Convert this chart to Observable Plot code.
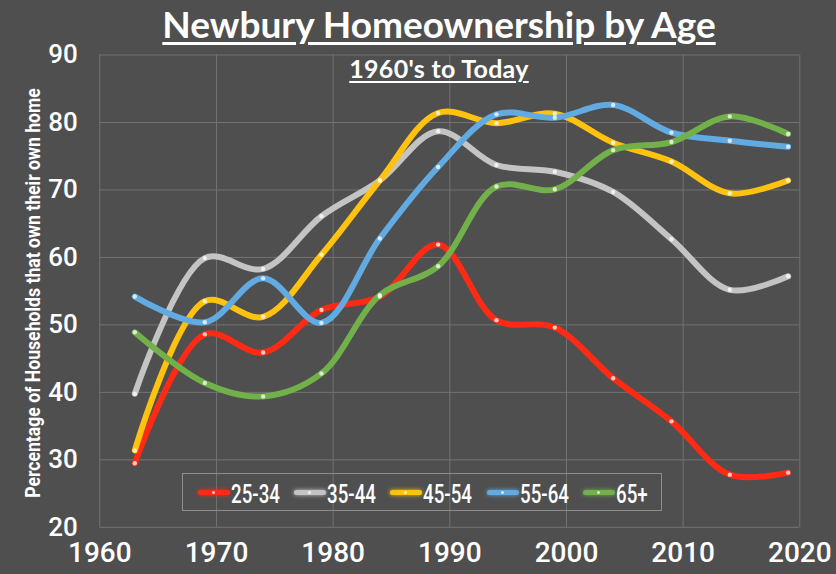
<!DOCTYPE html>
<html>
<head>
<meta charset="utf-8">
<script src="https://cdn.jsdelivr.net/npm/d3@7"></script>
<script src="https://cdn.jsdelivr.net/npm/@observablehq/plot@0.6"></script>
<style>
  html, body { margin: 0; padding: 0; background: #4f4f4f; }
  #wrap { position: relative; width: 836px; height: 574px; background: #4f4f4f; overflow: hidden; }
  #title { position: absolute; left: 439px; top: 2px; transform: translateX(-50%); white-space: nowrap; line-height: 1.2;
    font-family: Lato, "Open Sans", sans-serif; font-weight: 700; font-size: 37px; color: #fff; text-decoration: underline; text-decoration-thickness: 2.5px; text-underline-offset: 4px; z-index: 2; }
  #subtitle { position: absolute; left: 439px; top: 53px; transform: translateX(-50%); white-space: nowrap; line-height: 1.2;
    font-family: Lato, "Open Sans", sans-serif; font-weight: 700; font-size: 25px; letter-spacing: 0.3px; color: #fff; text-decoration: underline; text-decoration-thickness: 2px; text-underline-offset: 3px; z-index: 2; }
  #chart { position: absolute; left: 0; top: 36px; }
  #legend { position: absolute; left: 182px; top: 473px; width: 478px; height: 36px; border: 1.5px solid #8e8e8e; z-index: 2; }
  .item { position: absolute; top: 0; height: 36px; display: flex; align-items: center; }
  .sw { position: relative; width: 32px; height: 5px; border-radius: 3px; flex: none; }
  .sw::after { content: ""; position: absolute; left: 14px; top: 1px; width: 3px; height: 3px; border-radius: 50%; background: rgba(255,255,255,0.75); }
  .lab { display: inline-block; color: #fff; font-family: Roboto, sans-serif; font-size: 26px; font-weight: 500; transform: scaleX(0.72); transform-origin: left center; margin-left: 1px; margin-top: 4px; }
</style>
</head>
<body>
<div id="wrap">
  <div id="title">Newbury Homeownership by Age</div>
  <div id="subtitle">1960's to Today</div>
  <div id="chart"></div>
  <div id="legend"></div>
</div>
<script>
const years = [1963, 1969, 1974, 1979, 1984, 1989, 1994, 1999, 2004, 2009, 2014, 2019];
const age25_34 = [29.5, 48.6, 45.9, 52.2, 54.2, 61.9, 50.7, 49.6, 42.1, 35.7, 27.8, 28.1];
const age35_44 = [39.8, 59.9, 58.3, 66.1, 71.4, 78.7, 73.7, 72.7, 69.7, 62.7, 55.2, 57.2];
const age45_54 = [31.4, 53.5, 51.2, 60.4, 71.4, 81.4, 79.9, 81.3, 77.0, 74.2, 69.5, 71.4];
const age55_64 = [54.2, 50.4, 56.9, 50.3, 62.8, 73.4, 81.2, 80.7, 82.6, 78.5, 77.3, 76.4];
const age65plus = [48.9, 41.4, 39.4, 42.8, 54.4, 58.7, 70.5, 70.1, 75.9, 77.1, 80.9, 78.3];
const groups = ["25-34", "35-44", "45-54", "55-64", "65+"];
const colors = ["#ff2a14", "#c4c4c4", "#ffc20e", "#62aae2", "#72b04a"];
const xTicks = [1960, 1970, 1980, 1990, 2000, 2010, 2020];
const yTicks = [20, 30, 40, 50, 60, 70, 80, 90];
const yLabel = "Percentage of Households that own their own home";

const seriesValues = [age25_34, age35_44, age45_54, age55_64, age65plus];
const data = [];
groups.forEach((g, i) => years.forEach((yr, j) => data.push({group: g, year: yr, value: seriesValues[i][j]})));

const baseFont = 'Roboto, sans-serif';

const lineMarks = groups.flatMap(g => {
  const d = data.filter(r => r.group === g);
  return [
    Plot.line(d, {x: "year", y: "value", stroke: "group", strokeWidth: 14, strokeOpacity: 0.55, curve: "catmull-rom", ariaLabel: "glow"}),
    Plot.line(d, {x: "year", y: "value", stroke: "group", strokeWidth: 6, curve: "catmull-rom"})
  ];
});

const chart = Plot.plot({
  width: 836,
  height: 538,
  marginLeft: 99.3,
  marginRight: 36.7,
  marginTop: 18.5,
  marginBottom: 47.2,
  style: {background: "transparent", color: "#fff", fontFamily: baseFont},
  x: {domain: [1960, 2020], label: null, axis: null},
  y: {domain: [20, 90], label: null, axis: null},
  color: {domain: groups, range: colors},
  marks: [
    Plot.gridX(xTicks, {stroke: "#737373", strokeOpacity: 1, strokeWidth: 1}),
    Plot.gridY(yTicks, {stroke: "#737373", strokeOpacity: 1, strokeWidth: 1}),
    Plot.axisX(xTicks, {tickSize: 0, tickPadding: 15, fontSize: 28, fontWeight: 500, tickFormat: d => String(d), label: null, ariaLabel: "xaxis"}),
    Plot.axisY(yTicks, {tickSize: 0, tickPadding: 22, fontSize: 26, fontWeight: 500, label: null, ariaLabel: "yaxis"}),
    ...lineMarks,
    Plot.dot(data, {x: "year", y: "value", r: 2.2, fill: "#fff", fillOpacity: 0.75, stroke: "none"})
  ]
});

document.getElementById("chart").appendChild(chart);
const svg = d3.select(chart);
svg.selectAll('g[aria-label="glow"]').style("filter", "blur(4px)");

function condense(sel, factor) {
  sel.each(function() {
    const len = this.getComputedTextLength();
    this.setAttribute("textLength", (len * factor).toFixed(1));
    this.setAttribute("lengthAdjust", "spacingAndGlyphs");
  });
}
condense(svg.selectAll('g[aria-label="xaxis"] text'), 0.81);
condense(svg.selectAll('g[aria-label="yaxis"] text'), 0.84);

const yl = svg.append("text")
  .attr("text-anchor", "middle")
  .attr("dominant-baseline", "middle")
  .attr("fill", "#fff")
  .style("font-family", baseFont)
  .style("font-weight", 700)
  .style("font-size", "21px")
  .text(yLabel);
const ylLen = yl.node().getComputedTextLength();
yl.attr("transform", `translate(34,257) rotate(-90) scale(${(410 / ylLen).toFixed(3)},1)`);

// legend
const legendX = [15, 111, 207, 304, 400];
const legend = d3.select("#legend");
groups.forEach((g, i) => {
  const it = legend.append("div").attr("class", "item").style("left", legendX[i] + "px");
  it.append("div").attr("class", "sw").style("background", colors[i]).style("box-shadow", `0 0 4px ${colors[i]}`);
  it.append("span").attr("class", "lab").text(g);
});
</script>
</body>
</html>
